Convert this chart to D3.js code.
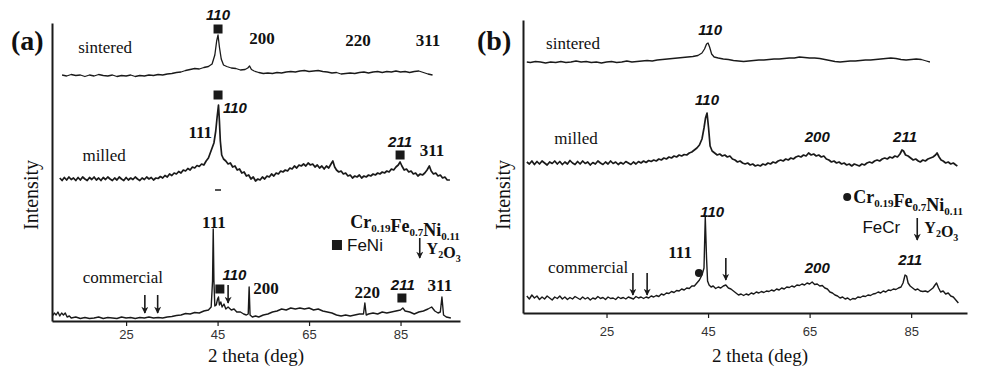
<!DOCTYPE html>
<html>
<head>
<meta charset="utf-8">
<script src="https://cdn.jsdelivr.net/npm/d3@7"></script>
<style>
  body { margin: 0; background: #fff; }
  svg text { fill: #111; }
  .serif { font-family: "Liberation Serif", "Times New Roman", serif; }
  .sans { font-family: "Liberation Sans", Arial, sans-serif; }
</style>
</head>
<body>
<svg id="chart" width="993" height="368"></svg>
<script>
// ---- data: [2theta (deg), intensity (a.u.)] ----
const xTicks = [25, 45, 65, 85];

const sinteredA = [[11,246],[12,245],[13,246.5],[14,245.5],[15,246],[16,244.5],[17,246],[18,245],[19,246.5],[20,245.5],[21,245],[22,246],[23,244.5],[24,245.5],[25,245],[26,246],[27,244.5],[28,245.5],[29,245],[30,246],[31,245.5],[32,246.5],[33,246],[34,247],[35,247.5],[36,248.5],[37,249],[38,250.5],[39,251.5],[40,252.5],[41,252],[42,253.5],[43,254.5],[43.8,257],[44.4,266],[44.8,280],[45.1,286],[45.4,274],[45.8,262],[46.3,256],[47,254.5],[48,253],[49,252.5],[50,251],[51,251.5],[51.6,253],[52,255],[52.4,251.5],[53,250],[54,248.5],[55,247.5],[56,248],[57,247.5],[58,248.5],[59,248],[60,249],[61,249.5],[62,249],[63,250],[64,250.5],[65,249.5],[66,250],[67,250.5],[68,249.5],[69,249],[70,248],[71,248.5],[72,247],[73,247.5],[74,248],[75,247.5],[76,248.5],[77,249],[78,248],[79,249],[80,249.5],[81,248.5],[82,249.5],[83,249],[84,250],[85,249],[86,249.5],[87,248.5],[88,249.5],[89,250],[90,248.5],[91,247],[92,246]];

const milledA = [[10.5,143],[11,140.5],[11.5,143.5],[12,141],[12.5,144],[13,141.5],[13.5,143],[14,140.5],[14.5,143.5],[15,141],[15.5,144],[16,142],[16.5,140.5],[17,143.5],[17.5,141.5],[18,144],[18.5,141],[19,143],[19.5,140.5],[20,143.5],[20.5,141.5],[21,144],[21.5,142],[22,140.5],[22.5,143],[23,141],[23.5,144],[24,142],[24.5,140.5],[25,143.5],[25.5,141],[26,143],[26.5,141.5],[27,144],[27.5,142],[28,140.5],[28.5,143],[29,141.5],[29.5,144],[30,142],[30.5,143.5],[31,141],[31.5,143],[32,142.5],[32.5,144.5],[33,143],[33.5,145.5],[34,144],[34.5,147],[35,145.5],[35.5,148],[36,147],[36.5,149.5],[37,148],[37.5,151],[38,150],[38.5,152.5],[39,151],[39.5,154],[40,153],[40.5,155.5],[41,154.5],[41.5,157],[42,156],[42.5,160],[43,163],[43.4,168],[43.8,173],[44.2,178],[44.6,190],[44.9,204],[45.2,216],[45.4,200],[45.6,180],[45.9,166],[46.3,162],[46.8,160],[47.3,157],[47.8,158],[48.3,154],[48.8,155],[49.3,151],[49.8,152],[50.3,148],[50.8,149],[51.3,145],[51.8,146],[52.3,142],[52.8,144],[53.3,140],[53.8,142],[54.3,141],[54.8,144],[55.3,142],[55.8,145],[56.3,144],[56.8,147],[57.3,145],[57.8,148],[58.3,147],[58.8,150],[59.3,149],[59.8,151],[60.3,150],[60.8,153],[61.3,152],[61.8,155],[62.3,153],[62.8,156],[63.3,155],[63.8,157],[64.3,155],[64.8,158],[65.3,156],[65.8,157],[66.3,154],[66.8,156],[67.3,153],[67.8,155],[68.3,152],[68.8,155],[69.3,153],[69.8,157],[70.2,160],[70.6,154],[71,151],[71.5,149],[72,150],[72.5,147],[73,148],[73.5,145],[74,146],[74.5,143],[75,145],[75.5,144],[76,146],[76.5,143],[77,145],[77.5,144],[78,146],[78.5,145],[79,147],[79.5,146],[80,148],[80.5,147],[81,149],[81.5,148],[82,150],[82.5,149],[83,152],[83.5,151],[84,154],[84.5,156],[84.9,159],[85.3,155],[85.8,151],[86.3,152],[86.8,149],[87.3,150],[87.8,147],[88.3,148],[88.8,145],[89.3,147],[89.8,146],[90.3,148],[90.8,151],[91.3,155],[91.7,150],[92.2,147],[92.7,148],[93.2,145],[93.7,146],[94.2,143],[94.7,144],[95.2,141],[95.8,141]];

const commercialA = [[8.9,5],[9.3,8],[9.7,6],[10.1,9],[10.5,5],[10.9,8],[11.3,6],[11.7,8],[12.1,4],[12.6,5],[13,3],[14,4],[15,2.5],[16,3.5],[17,2.5],[18,3],[19,4],[20,2.5],[21,3.5],[22,3],[23,2.5],[24,4],[25,3],[26,3.5],[27,2.5],[28,3.5],[29,3],[30,4],[31,3],[32,3.5],[33,3],[34,4],[35,4.5],[36,5.5],[37,6],[38,7.5],[39,7],[40,8.5],[41,8],[42,10],[43,11],[43.6,14],[43.9,40],[44.05,92],[44.2,40],[44.4,15],[44.7,16],[45,22],[45.2,24],[45.4,16],[45.7,19],[46,14],[46.4,17],[46.8,12],[47.3,14],[48,11],[48.6,12],[49.2,9],[50,9],[50.7,7],[51.3,6],[51.7,7],[51.9,34],[52.1,6],[52.6,4],[53.3,5],[54,4],[55,6],[56,7],[57,9],[58,10],[59,12],[60,11],[61,13],[62,12],[63,13],[64,12],[65,13],[66,11],[67,12],[68,10],[69,9],[70,8],[71,6],[72,5],[73,6],[74,5],[75,6],[76,7],[76.9,7],[77.2,18],[77.5,6],[78,7],[79,8],[80,7],[81,9],[82,8],[83,9],[84,10],[85,11],[85.5,13],[86,10],[87,9],[88,7],[89,9],[90,10],[91,12],[91.8,14],[92.5,10],[93.2,8],[93.7,9],[94.05,24],[94.4,6],[95,4],[96,3]];

const sinteredB = [[9.3,251],[10,250.5],[11,251.5],[12,251],[13,250],[14,251],[15,250.5],[16,251.5],[17,250.5],[18,251],[19,252],[20,251],[21,251.5],[22,250.5],[23,251],[24,250],[25,251],[26,251.5],[27,250.5],[28,251],[29,252],[30,251],[31,251.5],[32,252],[33,252.5],[34,252],[35,253],[36,253.5],[37,254],[38,254.5],[39,255],[40,255.5],[41,256],[42,256.5],[43,257.5],[43.8,260],[44.3,264],[44.7,269],[45,270],[45.3,266],[45.7,259],[46.2,256],[47,255],[48,254],[49,253.5],[50,252.5],[51,252],[52,251.5],[53,252],[54,252.5],[55,253],[56,253],[57,253.5],[58,254],[59,254],[60,254.5],[61,255],[62,255],[63,256],[64,255.5],[65,255],[66,255],[67,254.5],[68,253.5],[69,252.5],[70,251.5],[71,251],[72,251.5],[73,252],[74,252],[75,252.5],[76,253],[77,253],[78,253.5],[79,254],[80,254.5],[81,255],[82,254.5],[83,253.5],[84,253],[85,253.5],[86,254],[87,253.5],[88,252],[88.7,251]];

const milledB = [[9.3,151],[9.8,149],[10.3,152],[10.8,148.5],[11.3,151.5],[11.8,149],[12.3,152],[12.8,150],[13.3,148],[13.8,151],[14.3,149.5],[14.8,152],[15.3,149],[15.8,151.5],[16.3,148.5],[16.8,151],[17.3,149],[17.8,152.5],[18.3,150],[18.8,148.5],[19.3,151.5],[19.8,149],[20.3,152],[20.8,149.5],[21.3,151],[21.8,148],[22.3,150.5],[22.8,149],[23.3,152],[23.8,150],[24.3,148.5],[24.8,151],[25.3,149],[25.8,152],[26.3,149.5],[26.8,151],[27.3,148.5],[27.8,150.5],[28.3,149],[28.8,151.5],[29.3,150],[29.8,148.5],[30.3,151],[30.8,149],[31.3,151.5],[31.8,150],[32.3,152],[32.8,150.5],[33.3,152.5],[33.8,151.5],[34.3,153],[34.8,152],[35.3,154],[35.8,153],[36.3,155],[36.8,154],[37.3,156],[37.8,155],[38.3,157],[38.8,156],[39.3,158],[39.8,157],[40.3,158.5],[40.8,158],[41.3,160],[41.8,161],[42.3,163],[42.8,165],[43.3,168],[43.8,174],[44.2,185],[44.5,195],[44.8,200],[45.1,185],[45.4,167],[45.8,162],[46.3,160],[46.8,158],[47.3,159],[47.8,157],[48.3,158],[48.8,156],[49.3,157],[49.8,154],[50.3,153],[50.8,151],[51.3,152],[51.8,150],[52.3,149],[52.8,150],[53.3,148],[53.8,149],[54.3,147],[54.8,148],[55.3,147],[55.8,149],[56.3,148],[56.8,150],[57.3,149],[57.8,151],[58.3,150],[58.8,152],[59.3,153],[59.8,152],[60.3,154],[60.8,153],[61.3,155],[61.8,154],[62.3,156],[62.8,157],[63.3,156],[63.8,158],[64.3,157],[64.8,160],[65.3,158],[65.8,159],[66.3,157],[66.8,158],[67.3,156],[67.8,157],[68.3,154],[68.8,153],[69.3,151],[69.8,152],[70.3,150],[70.8,151],[71.3,149],[71.8,150],[72.3,148],[72.8,149],[73.3,147],[73.8,149],[74.3,148],[74.8,147],[75.3,149],[75.8,148],[76.3,150],[76.8,151],[77.3,150],[77.8,152],[78.3,153],[78.8,152],[79.3,154],[79.8,155],[80.3,154],[80.8,156],[81.3,155],[81.8,157],[82.3,156],[82.8,159],[83.2,163],[83.5,162],[83.9,158],[84.4,157],[84.9,155],[85.4,153],[85.9,154],[86.4,152],[86.8,151],[87.3,153],[87.8,152],[88.3,154],[88.8,155],[89.3,156],[89.8,158],[90.1,160],[90.5,156],[90.9,153],[91.3,152],[91.8,150],[92.3,151],[92.8,149],[93.3,150],[93.8,148],[94.1,147]];

const commercialB = [[9.3,17],[9.8,14],[10.3,18],[10.8,15],[11.3,17],[11.8,13.5],[12.3,16],[12.8,14],[13.3,17],[13.8,15],[14.3,13],[14.8,16],[15.3,14.5],[15.8,17],[16.3,14],[16.8,16],[17.3,13.5],[17.8,15.5],[18.3,14],[18.8,16.5],[19.3,15],[19.8,13.5],[20.3,16],[20.8,14],[21.3,15.5],[21.8,13],[22.3,15],[22.8,14],[23.3,16.5],[23.8,14.5],[24.3,15.5],[24.8,13.5],[25.3,16],[25.8,14.5],[26.3,15],[26.8,13.5],[27.3,16],[27.8,14.5],[28.3,15.5],[28.8,14],[29.3,16],[29.8,15],[30.3,14],[30.8,16.5],[31.3,15],[31.8,16],[32.3,14.5],[32.8,16],[33.3,15],[33.8,17],[34.3,16],[34.8,17.5],[35.3,16.5],[35.8,19],[36.3,18],[36.8,20],[37.3,19.5],[37.8,21.5],[38.3,20.5],[38.8,22.5],[39.3,22],[39.8,24],[40.3,23],[40.8,25],[41.3,24.5],[41.8,27],[42.3,27],[42.8,30],[43.3,33],[43.8,38],[44.2,45],[44.45,96],[44.7,55],[44.9,32],[45.2,28],[45.6,26],[46,27],[46.5,24.5],[47,26],[47.5,25],[48,27],[48.5,28],[49,25],[49.5,24],[50,22],[50.5,20],[51,18],[51.5,19],[52,17.5],[52.5,19],[53,18],[53.5,20],[54,19],[54.5,21],[55,20],[55.5,21.5],[56,20.5],[56.5,22],[57,21.5],[57.5,23],[58,22],[58.5,24],[59,23],[59.5,25],[60,24],[60.5,26],[61,25.5],[61.5,27],[62,26],[62.5,28],[63,27.5],[63.5,29],[64,28],[64.5,30],[65,29],[65.5,31],[66,28.5],[66.5,29],[67,27],[67.5,27.5],[68,25],[68.5,24],[69,21],[69.5,20],[70,18],[70.5,17],[71,15],[71.5,16],[72,14],[72.5,15],[73,13],[73.5,14.5],[74,14],[74.5,16],[75,15.5],[75.5,17],[76,16.5],[76.5,18],[77,17.5],[77.5,19],[78,19.5],[78.5,21],[79,20],[79.5,22],[80,21],[80.5,23],[81,22.5],[81.5,24],[82,23.5],[82.5,25],[83,26],[83.4,30],[83.8,38],[84.1,37],[84.4,30],[84.8,27],[85.3,25],[85.8,23],[86.3,24],[86.8,22],[87.3,21.5],[87.8,22],[88.3,21],[88.8,23],[89.3,25],[89.7,28],[90,30],[90.4,25],[90.8,21],[91.3,22],[91.8,19],[92.3,20],[92.8,17],[93.3,16],[93.8,13],[94.3,10]];

// trace names: [deg, intensity, text]
const namesA = [[20.4, 274, "sintered"], [20.2, 166, "milled"], [24.3, 44, "commercial"]];
const namesB = [[18.4, 270, "sintered"], [19, 175, "milled"], [21.4, 46, "commercial"]];

// bcc reflections (italic) and fcc reflections (roman): [deg, intensity, text]
const bccA = [[45.1, 306, "110"], [48.8, 213, "110"], [84.9, 179, "211"], [48.7, 46, "110"], [85.5, 36, "211"]];
const fccA = [[54.7, 283, "200"], [75.7, 281, "220"], [91, 281, "311"], [41.2, 189, "111"], [91.9, 171, "311"],
              [44.2, 99, "111"], [55.6, 33, "200"], [77.7, 29, "220"], [93.6, 36, "311"]];
const bccB = [[45.4, 283, "110"], [44.8, 213, "110"], [66.5, 176, "200"], [83.8, 176, "211"],
              [45.8, 101, "110"], [66.5, 45, "200"], [84.8, 53, "211"]];
const fccB = [[39.5, 61, "111"]];

// phase markers: [deg, intensity]
const squaresA = [[45.1, 292], [45.1, 226], [84.9, 166], [45.5, 32], [85.3, 23]];
const dotsB = [[43.2, 40]];
const dashesA = [[45.1, 131]];

// Y2O3 arrows: [deg, intensity from, intensity to]
const arrowsA = [[29.1, 26, 8], [31.9, 26, 8], [47.3, 36, 18]];
const arrowsB = [[30.2, 40, 18], [33, 40, 18], [48.5, 55, 33]];

const composition = [["Cr", "0.19"], ["Fe", "0.7"], ["Ni", "0.11"]];
const yttria = [["Y", "2"], ["O", "3"]];

const svg = d3.select("#chart");
const ink = "#1a1a1a";

// arrowhead drawn along +x, so orient=auto turns it to follow the line
svg.append("defs").append("marker")
  .attr("id", "head")
  .attr("viewBox", "0 0 10 10")
  .attr("refX", 9).attr("refY", 5)
  .attr("markerWidth", 8).attr("markerHeight", 7)
  .attr("orient", "auto")
  .attr("markerUnits", "userSpaceOnUse")
  .append("path")
  .attr("d", "M0,0 L10,5 L0,10 L3,5 Z")
  .attr("fill", ink);

function chem(sel, parts, size, subSize) {
  parts.forEach(([el, n]) => {
    sel.append("tspan").attr("font-size", size).text(el);
    sel.append("tspan").attr("font-size", subSize).attr("dy", 4).text(n);
    sel.append("tspan").attr("font-size", size).attr("dy", -4).text("");
  });
}

function drawPanel(p) {
  const g = svg.append("g");
  const x = d3.scaleLinear().domain(p.xDomain).range(p.xRange);
  const y = d3.scaleLinear().domain(p.yDomain).range(p.yRange);

  // axes
  const xAxis = g.append("g")
    .attr("transform", `translate(0,${p.yRange[0]})`)
    .call(d3.axisBottom(x).tickValues(xTicks).tickSize(5).tickSizeOuter(0).tickPadding(p.tickPad));
  xAxis.select(".domain").attr("stroke", ink).attr("stroke-width", 2);
  xAxis.selectAll(".tick line").attr("stroke", ink).attr("stroke-width", 1.2);
  xAxis.selectAll(".tick text").attr("class", "sans").attr("font-size", 13).style("fill", "#333");

  const yAxis = g.append("g")
    .attr("transform", `translate(${p.xRange[0]},0)`)
    .call(d3.axisLeft(y).tickValues([]).tickSizeOuter(0));
  yAxis.select(".domain").attr("stroke", ink).attr("stroke-width", 2);

  g.append("text").attr("class", "serif")
    .attr("x", (p.xRange[0] + p.xRange[1]) / 2 + p.titleShift).attr("y", 362)
    .attr("text-anchor", "middle").attr("font-size", 19)
    .text("2 theta (deg)");
  g.append("text").attr("class", "serif")
    .attr("transform", `translate(${p.yLabelX},195) rotate(-90)`)
    .attr("text-anchor", "middle").attr("font-size", 20)
    .text("Intensity");
  g.append("text").attr("class", "serif")
    .attr("x", p.tagX).attr("y", 50)
    .attr("font-size", 28).attr("font-weight", "bold")
    .text(p.tag);

  // traces
  const line = d3.line().x(d => x(d[0])).y(d => y(d[1]));
  p.traces.forEach(t => {
    g.append("path").datum(t.data)
      .attr("d", line)
      .attr("fill", "none")
      .attr("stroke", ink)
      .attr("stroke-width", t.w)
      .attr("stroke-linejoin", "round");
  });

  g.selectAll(null).data(p.names).join("text")
    .attr("class", "serif")
    .attr("x", d => x(d[0])).attr("y", d => y(d[1]))
    .attr("dy", "0.35em").attr("text-anchor", "middle")
    .attr("font-size", 17)
    .text(d => d[2]);

  g.selectAll(null).data(p.bcc).join("text")
    .attr("class", "sans")
    .attr("x", d => x(d[0])).attr("y", d => y(d[1]))
    .attr("dy", "0.35em").attr("text-anchor", "middle")
    .attr("font-size", 15).attr("font-weight", "bold").attr("font-style", "italic")
    .text(d => d[2]);

  g.selectAll(null).data(p.fcc).join("text")
    .attr("class", "serif")
    .attr("x", d => x(d[0])).attr("y", d => y(d[1]))
    .attr("dy", "0.35em").attr("text-anchor", "middle")
    .attr("font-size", 17).attr("font-weight", "bold")
    .text(d => d[2]);

  g.selectAll(null).data(p.squares).join("rect")
    .attr("x", d => x(d[0]) - 4.5).attr("y", d => y(d[1]) - 4.5)
    .attr("width", 9).attr("height", 9).attr("fill", ink);

  g.selectAll(null).data(p.dots).join("circle")
    .attr("cx", d => x(d[0])).attr("cy", d => y(d[1])).attr("r", 4).attr("fill", ink);

  g.selectAll(null).data(p.dashes).join("line")
    .attr("x1", d => x(d[0]) - 3).attr("x2", d => x(d[0]) + 3)
    .attr("y1", d => y(d[1])).attr("y2", d => y(d[1]))
    .attr("stroke", ink).attr("stroke-width", 1.5);

  g.selectAll(null).data(p.arrows).join("line")
    .attr("x1", d => x(d[0])).attr("x2", d => x(d[0]))
    .attr("y1", d => y(d[1])).attr("y2", d => y(d[2]))
    .attr("stroke", ink).attr("stroke-width", 1.6)
    .attr("marker-end", "url(#head)");

  // legend
  const L = p.legend;
  const comp = g.append("text").attr("class", "serif").attr("font-weight", "bold")
    .attr("x", x(L.comp[0])).attr("y", y(L.comp[1])).attr("dy", "0.35em");
  chem(comp, composition, 18, 11);
  if (L.compDot) {
    g.append("circle").attr("cx", x(L.compDot[0])).attr("cy", y(L.compDot[1])).attr("r", 4).attr("fill", ink);
  }
  if (L.phaseSquare) {
    g.append("rect").attr("x", x(L.phaseSquare[0]) - 5).attr("y", y(L.phaseSquare[1]) - 5)
      .attr("width", 10).attr("height", 10).attr("fill", ink);
  }
  g.append("text").attr("class", "sans")
    .attr("x", x(L.phase[0])).attr("y", y(L.phase[1])).attr("dy", "0.35em")
    .attr("font-size", 17).text(L.phaseName);
  g.append("line")
    .attr("x1", x(L.arrow[0])).attr("x2", x(L.arrow[0]))
    .attr("y1", y(L.arrow[1])).attr("y2", y(L.arrow[2]))
    .attr("stroke", ink).attr("stroke-width", 1.6)
    .attr("marker-end", "url(#head)");
  const yt = g.append("text").attr("class", "serif").attr("font-weight", "bold")
    .attr("x", x(L.oxide[0])).attr("y", y(L.oxide[1])).attr("dy", "0.35em");
  chem(yt, yttria, 16, 10);
}

drawPanel({
  tag: "(a)", tagX: 11, yLabelX: 38, titleShift: 0, tickPad: 4,
  xDomain: [8.8, 98], xRange: [52, 460],
  yDomain: [0, 298], yRange: [321, 23],
  traces: [{ data: sinteredA, w: 1.3 }, { data: milledA, w: 1.7 }, { data: commercialA, w: 1.4 }],
  names: namesA, bcc: bccA, fcc: fccA,
  squares: squaresA, dots: [], dashes: dashesA, arrows: arrowsA,
  legend: { comp: [74, 99], phaseSquare: [71.1, 76], phase: [73.3, 76], phaseName: "FeNi",
            arrow: [89.2, 83, 63], oxide: [90.7, 73] }
});

drawPanel({
  tag: "(b)", tagX: 477, yLabelX: 510, titleShift: 15, tickPad: 9,
  xDomain: [8.55, 96], xRange: [523, 967],
  yDomain: [0, 293], yRange: [313, 20],
  traces: [{ data: sinteredB, w: 1.3 }, { data: milledB, w: 1.7 }, { data: commercialB, w: 1.4 }],
  names: namesB, bcc: bccB, fcc: fccB,
  squares: [], dots: dotsB, dashes: [], arrows: arrowsB,
  legend: { comp: [73.6, 116], compDot: [72.4, 116], phase: [75.4, 86], phaseName: "FeCr",
            arrow: [86.2, 95, 73], oxide: [87.6, 86] }
});
</script>
</body>
</html>
